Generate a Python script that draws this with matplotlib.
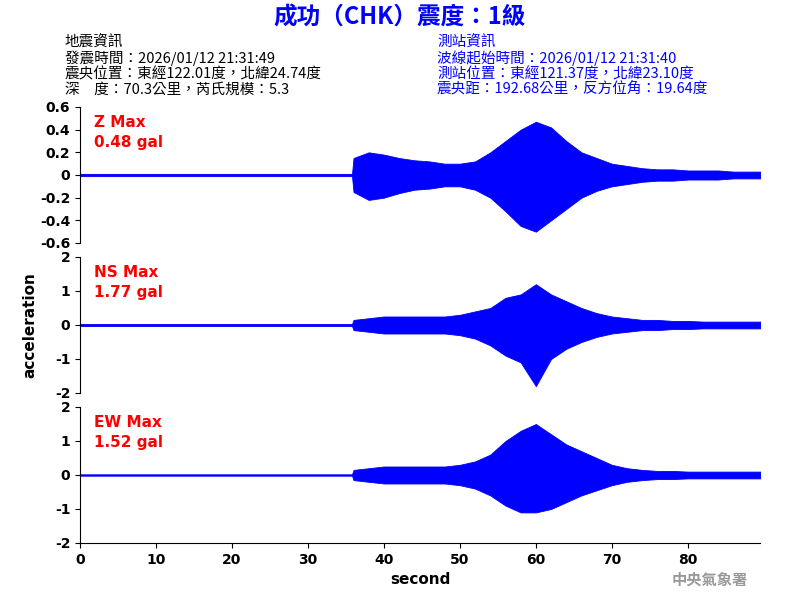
import numpy as np
import matplotlib
matplotlib.use("Agg")
import matplotlib.pyplot as plt

plt.rcParams['font.family'] = ['Noto Sans CJK TC', 'DejaVu Sans']

time_s = list(range(0, 36, 2)) + [35.8] + list(range(36, 92, 2))
quiet = 19
z_up = [0.01]*quiet + [0.15,0.2,0.18,0.15,0.13,0.12,0.1,0.1,0.12,0.2,0.3,0.4,0.47,0.42,0.3,0.2,0.15,0.1,0.08,0.06,0.05,0.05,0.04,0.04,0.04,0.03,0.03,0.03]
z_lo = [-0.01]*quiet + [-0.15,-0.22,-0.2,-0.16,-0.13,-0.12,-0.1,-0.1,-0.13,-0.2,-0.32,-0.45,-0.5,-0.4,-0.3,-0.2,-0.14,-0.1,-0.08,-0.06,-0.05,-0.05,-0.04,-0.04,-0.04,-0.03,-0.03,-0.03]
ns_up = [0.03]*quiet + [0.15,0.2,0.25,0.25,0.25,0.25,0.25,0.3,0.4,0.5,0.8,0.9,1.2,0.9,0.7,0.5,0.35,0.25,0.2,0.15,0.15,0.12,0.12,0.1,0.1,0.1,0.1,0.1]
ns_lo = [-0.03]*quiet + [-0.15,-0.2,-0.25,-0.25,-0.25,-0.25,-0.25,-0.3,-0.4,-0.6,-0.9,-1.1,-1.8,-1.0,-0.7,-0.5,-0.35,-0.25,-0.2,-0.15,-0.15,-0.12,-0.12,-0.1,-0.1,-0.1,-0.1,-0.1]
ew_up = [0.02]*quiet + [0.15,0.2,0.25,0.25,0.25,0.25,0.25,0.3,0.4,0.6,1.0,1.3,1.5,1.2,0.9,0.7,0.5,0.3,0.2,0.15,0.12,0.12,0.1,0.1,0.1,0.1,0.1,0.1]
ew_lo = [-0.02]*quiet + [-0.15,-0.2,-0.25,-0.25,-0.25,-0.25,-0.25,-0.3,-0.4,-0.6,-0.9,-1.1,-1.1,-1.0,-0.8,-0.6,-0.45,-0.3,-0.2,-0.15,-0.12,-0.12,-0.1,-0.1,-0.1,-0.1,-0.1,-0.1]

labels = [("Z Max", "0.48 gal"), ("NS Max", "1.77 gal"), ("EW Max", "1.52 gal")]
ylims = [(-0.6, 0.6), (-2, 2), (-2, 2)]
yticks = [[-0.6,-0.4,-0.2,0,0.2,0.4,0.6], [-2,-1,0,1,2], [-2,-1,0,1,2]]
series = [(z_up, z_lo), (ns_up, ns_lo), (ew_up, ew_lo)]

fig = plt.figure(figsize=(8, 6), dpi=100)
W, H = 800, 600
tops = [107, 257, 407]
ph = 136
for i in range(3):
    ax = fig.add_axes([80/W, 1-(tops[i]+ph)/H, 680/W, ph/H])
    up, lo = series[i]
    ax.fill_between(time_s, lo, up, color='#0000ff', lw=0.6, edgecolor='#0000ff')
    ax.plot([0, 89.5], [0, 0], color='#0000ff', lw=0.8)
    ax.set_xlim(0, 89.5)
    ax.set_ylim(*ylims[i])
    ax.set_yticks(yticks[i])
    ax.set_yticklabels([f"{v:g}" for v in yticks[i]], fontsize=10, fontweight='bold', family='DejaVu Sans')
    for s in ['top', 'right']:
        ax.spines[s].set_visible(False)
    if i < 2:
        ax.spines['bottom'].set_visible(False)
        ax.set_xticks([])
    else:
        ax.set_xticks(range(0, 90, 10))
        ax.set_xticklabels([str(v) for v in range(0, 90, 10)], fontsize=10, fontweight='bold', family='DejaVu Sans')
        ax.set_xlabel("second", fontsize=11, fontweight='bold', family='DejaVu Sans')
    ax.text(0.02, 0.94, labels[i][0] + "\n" + labels[i][1], transform=ax.transAxes, color='red',
            fontsize=11, fontweight='bold', va='top', family='DejaVu Sans', linespacing=1.4)

fig.text(30/W, 1-325/H, "acceleration", rotation=90, fontsize=11, fontweight='bold', va='center', ha='center', family='DejaVu Sans')
fig.text(400/W, 1-18/H, "成功（CHK）震度：1級", color='#0000ff', fontsize=17, fontweight='bold', ha='center', va='center')
left = ["地震資訊", "發震時間：2026/01/12 21:31:49", "震央位置：東經122.01度，北緯24.74度", "深　度：70.3公里，芮氏規模：5.3"]
right = ["測站資訊", "波線起始時間：2026/01/12 21:31:40", "測站位置：東經121.37度，北緯23.10度", "震央距：192.68公里，反方位角：19.64度"]
for k in range(4):
    y = 1-(43+k*15.5)/H
    fig.text(65/W, y, left[k], fontsize=10.5, va='center', color='black')
    fig.text(437/W, y, right[k], fontsize=10.5, va='center', color='#0000ff')
fig.text(748/W, 1-580/H, "中央氣象署", fontsize=11, fontweight='bold', color='#999999', ha='right', va='center')
fig.savefig("out.png", dpi=100)
